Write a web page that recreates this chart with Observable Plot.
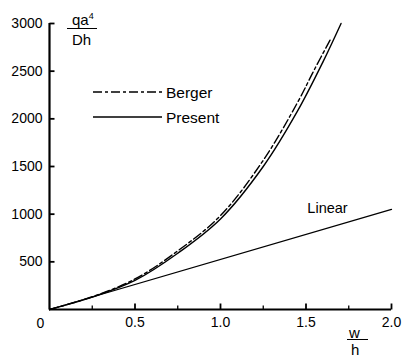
<!DOCTYPE html>
<html>
<head>
<meta charset="utf-8">
<script src="https://cdn.jsdelivr.net/npm/d3@7"></script>
<script src="https://cdn.jsdelivr.net/npm/@observablehq/plot@0.6"></script>
<style>
  html, body { margin: 0; padding: 0; background: #fff; }
  #wrap { position: relative; width: 406px; height: 359px; font-family: "Liberation Sans", Arial, sans-serif; color: #000; }
  #wrap svg { display: block; }
  .ov { position: absolute; font-size: 14px; line-height: 1; white-space: nowrap; }
  .frac-line { position: absolute; border-top: 1.3px solid #000; }
</style>
</head>
<body>
<div id="wrap"></div>
<script>
// Present (nonlinear theory) curve: w/h vs qa^4/(Dh)
const presentW = [0, 0.25, 0.5, 0.75, 1.0, 1.25, 1.45, 1.6, 1.705];
const presentV = [0, 130, 305, 590, 950, 1500, 2080, 2600, 3000];
// Berger approximation
const bergerW = [0, 0.25, 0.5, 0.75, 1.0, 1.25, 1.45, 1.55, 1.645];
const bergerV = [0, 134, 320, 615, 985, 1565, 2170, 2520, 2840];
// Linear theory
const linearW = [0, 2.0];
const linearV = [0, 1050];

const xTicks = [0.5, 1.0, 1.5, 2.0];
const xTickLabels = ["0.5", "1.0", "1.5", "2.0"];
const xMinorTicks = [0.25, 0.75, 1.25, 1.75];
const yTicks = [500, 1000, 1500, 2000, 2500, 3000];
const yTickLabels = ["500", "1000", "1500", "2000", "2500", "3000"];
const originLabel = ["0"];
const seriesNames = ["Berger", "Present", "Linear"];

const present = presentW.map((w, i) => ({w, v: presentV[i]}));
const berger = bergerW.map((w, i) => ({w, v: bergerV[i]}));
const linear = linearW.map((w, i) => ({w, v: linearV[i]}));

const W = 406, H = 359, mL = 49, mR = 15, mT = 23, mB = 50;
const xDomain = [0, 2], yDomain = [0, 3000];
// pixel -> data-unit conversion for the inward tick lengths
const yUnit = (yDomain[1] - yDomain[0]) / (H - mT - mB);
const xUnit = (xDomain[1] - xDomain[0]) / (W - mL - mR);

const xTickData = xTicks.map(x => ({x, y1: 0, y2: 6 * yUnit}));
const xMinorData = xMinorTicks.map(x => ({x, y1: 0, y2: 4 * yUnit}));
const yTickData = yTicks.map(y => ({y, x1: 0, x2: 5 * xUnit}));

const chart = Plot.plot({
  width: W,
  height: H,
  marginLeft: mL,
  marginRight: mR,
  marginTop: mT,
  marginBottom: mB,
  x: {domain: xDomain, label: null},
  y: {domain: yDomain, label: null},
  style: {fontFamily: "Liberation Sans, Arial, sans-serif", fontSize: "14px", background: "#fff", color: "#000", overflow: "visible"},
  marks: [
    // inward ticks
    Plot.link(xTickData, {x1: "x", x2: "x", y1: "y1", y2: "y2", stroke: "#000", strokeWidth: 1.8}),
    Plot.link(xMinorData, {x1: "x", x2: "x", y1: "y1", y2: "y2", stroke: "#000", strokeWidth: 1.3}),
    Plot.link(yTickData, {x1: "x1", x2: "x2", y1: "y", y2: "y", stroke: "#000", strokeWidth: 1.8}),
    // tick labels
    Plot.axisX(xTicks, {tickSize: 0, tickPadding: 8, tickFormat: (d, i) => xTickLabels[i], fill: "#000", fontSize: 14}),
    Plot.axisY(yTicks, {tickSize: 0, tickPadding: 7, tickFormat: (d, i) => yTickLabels[i], fill: "#000", fontSize: 14}),
    Plot.text(originLabel, {x: 0, y: 0, text: d => d, dx: -9, dy: 14, fontSize: 14, fill: "#000"}),
    // axis lines
    Plot.ruleX([0], {strokeWidth: 2.2, stroke: "#000"}),
    Plot.ruleY([0], {strokeWidth: 2, stroke: "#000"}),
    // curves
    Plot.line(linear, {x: "w", y: "v", stroke: "#000", strokeWidth: 1.3}),
    Plot.line(present, {x: "w", y: "v", stroke: "#000", strokeWidth: 1.4, curve: "catmull-rom"}),
    Plot.line(berger, {x: "w", y: "v", stroke: "#000", strokeWidth: 1.4, curve: "catmull-rom", strokeDasharray: "9,3,3,3"}),
    // Linear label
    Plot.text([linear[linear.length - 1]], {x: "w", y: "v", text: () => seriesNames[2], dx: -64, dy: -1, fontSize: 14.5, fill: "#000"})
  ]
});

const wrap = document.getElementById("wrap");
wrap.appendChild(chart);

function addText(txt, left, top, extra) {
  const d = document.createElement("div");
  d.className = "ov";
  d.style.left = left + "px";
  d.style.top = top + "px";
  d.innerHTML = txt;
  if (extra) Object.assign(d.style, extra);
  wrap.appendChild(d);
}
function addLine(left, top, width) {
  const d = document.createElement("div");
  d.className = "frac-line";
  d.style.left = left + "px";
  d.style.top = top + "px";
  d.style.width = width + "px";
  wrap.appendChild(d);
}
// y-axis label qa^4 / Dh
addText('qa<sup style="font-size:9px;vertical-align:6px">4</sup>', 72, 12, {fontSize: "15px"});
addLine(67, 28, 30);
addText('Dh', 72, 32, {fontSize: "15px"});
// x-axis label w / h
addText('w', 349, 325, {fontSize: "15px"});
addLine(347, 339, 21);
addText('h', 351, 342, {fontSize: "15px"});

// legend
const leg = document.createElementNS("http://www.w3.org/2000/svg", "svg");
leg.setAttribute("width", "75");
leg.setAttribute("height", "40");
leg.style.position = "absolute";
leg.style.left = "90px";
leg.style.top = "82px";
leg.innerHTML = '<line x1="3" x2="72" y1="10" y2="10" stroke="#000" stroke-width="1.4" stroke-dasharray="9,3,3,3"/>' +
                '<line x1="3" x2="72" y1="35" y2="35" stroke="#000" stroke-width="1.4"/>';
wrap.appendChild(leg);
addText(seriesNames[0], 166, 85, {fontSize: "15.5px"});
addText(seriesNames[1], 166, 110, {fontSize: "15.5px"});
</script>
</body>
</html>
